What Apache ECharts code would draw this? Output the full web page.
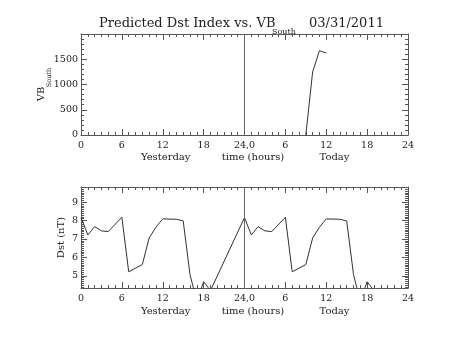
<!DOCTYPE html>
<html><head><meta charset="utf-8">
<script src="https://cdn.jsdelivr.net/npm/echarts@6/dist/echarts.min.js"></script>
<style>html,body{margin:0;padding:0;background:#fff}#c{width:453px;height:340px}</style>
</head><body><div id="c"></div>
<script>
// ---- data ----
const vbHours = [33, 34, 35, 36];
const vbValues = [0, 1248, 1669, 1624];
const dstHours = [0,1,2,3,4,6,7,9,10,11,12,14,15,16,17,18,19,
                  24,25,26,27,28,30,31,33,34,35,36,38,39,40,41,42,43];
const dstValues = [8.16,7.22,7.67,7.44,7.40,8.18,5.22,5.61,7.05,7.64,8.09,8.07,7.98,5.07,3.61,4.68,4.20,
                   8.16,7.22,7.67,7.44,7.40,8.18,5.22,5.61,7.05,7.64,8.09,8.07,7.98,5.07,3.61,4.68,4.20];
const xTickLabels = ['0','6','12','18','24,0','6','12','18','24'];
const vbTicks = [0, 500, 1000, 1500];
const vbRange = [0, 2000];
const dstTicks = [5, 6, 7, 8, 9];
const dstRange = [4.34, 9.82];
const dayMark = 24;

// minor ticks for Dst axis (every 0.1)
const dstMinor = [];
for (let i = Math.ceil(dstRange[0]*10); i <= Math.floor(dstRange[1]*10); i++) {
  if (i % 10 !== 0) dstMinor.push(i/10);
}

const FONT = '"DejaVu Serif", serif';
const LINE = '#555';
const TXT = '#222';

function xAxes(gi) {
  const base = {
    type: 'value', gridIndex: gi, min: 0, max: 48, interval: 6,
    axisLine: {show: true, onZero: false, lineStyle: {color: LINE, width: 1}},
    axisTick: {show: true, inside: true, length: 6, lineStyle: {color: LINE}},
    minorTick: {show: true, splitNumber: 6, length: 3, lineStyle: {color: LINE}},
    splitLine: {show: false}, minorSplitLine: {show: false}
  };
  return [
    Object.assign({}, base, {position: 'bottom',
      axisLabel: {show: true, margin: 6, fontFamily: FONT, fontSize: 9.5, color: TXT,
        formatter: v => xTickLabels[Math.round(v/6)]}}),
    Object.assign({}, base, {position: 'top', axisLabel: {show: false}})
  ];
}

const option = {
  animation: false,
  backgroundColor: '#fff',
  grid: [
    {left: 81, top: 34, width: 327, height: 101},
    {left: 81, top: 187, width: 327, height: 101}
  ],
  xAxis: [...xAxes(0), ...xAxes(1)],
  yAxis: [
    // top grid
    {type: 'value', gridIndex: 0, position: 'left', min: vbRange[0], max: vbRange[1], interval: 500,
     axisLine: {show: true, onZero: false, lineStyle: {color: LINE}},
     axisTick: {show: true, inside: true, length: 6, lineStyle: {color: LINE}},
     minorTick: {show: true, splitNumber: 5, length: 3, lineStyle: {color: LINE}},
     splitLine: {show: false},
     axisLabel: {show: true, margin: 3, fontFamily: FONT, fontSize: 9.5, color: TXT,
       formatter: v => vbTicks.indexOf(v) >= 0 ? String(v) : ''}},
    {type: 'value', gridIndex: 0, position: 'right', min: vbRange[0], max: vbRange[1], interval: 500,
     axisLine: {show: true, onZero: false, lineStyle: {color: LINE}},
     axisTick: {show: true, inside: true, length: 6, lineStyle: {color: LINE}},
     minorTick: {show: true, splitNumber: 5, length: 3, lineStyle: {color: LINE}},
     splitLine: {show: false}, axisLabel: {show: false}},
    // bottom grid - major
    {type: 'value', gridIndex: 1, position: 'left', min: dstRange[0], max: dstRange[1],
     axisLine: {show: true, onZero: false, lineStyle: {color: LINE}},
     axisTick: {show: true, inside: true, length: 6, customValues: dstTicks, lineStyle: {color: LINE}},
     splitLine: {show: false},
     axisLabel: {show: true, margin: 3, fontFamily: FONT, fontSize: 9.5, color: TXT, customValues: dstTicks}},
    {type: 'value', gridIndex: 1, position: 'left', min: dstRange[0], max: dstRange[1],
     axisLine: {show: false, onZero: false},
     axisTick: {show: true, inside: true, length: 3, customValues: dstMinor, lineStyle: {color: LINE}},
     splitLine: {show: false}, axisLabel: {show: false}},
    {type: 'value', gridIndex: 1, position: 'right', min: dstRange[0], max: dstRange[1],
     axisLine: {show: true, onZero: false, lineStyle: {color: LINE}},
     axisTick: {show: true, inside: true, length: 6, customValues: dstTicks, lineStyle: {color: LINE}},
     splitLine: {show: false}, axisLabel: {show: false}},
    {type: 'value', gridIndex: 1, position: 'right', min: dstRange[0], max: dstRange[1],
     axisLine: {show: false, onZero: false},
     axisTick: {show: true, inside: true, length: 3, customValues: dstMinor, lineStyle: {color: LINE}},
     splitLine: {show: false}, axisLabel: {show: false}}
  ],
  series: [
    {type: 'line', xAxisIndex: 0, yAxisIndex: 0, symbol: 'none', clip: true,
     lineStyle: {color: '#333', width: 1},
     data: vbHours.map((h, i) => [h, vbValues[i]]),
     markLine: {silent: true, symbol: 'none', label: {show: false},
       lineStyle: {color: '#666', width: 1, type: 'solid'}, data: [{xAxis: dayMark}]}},
    {type: 'line', xAxisIndex: 2, yAxisIndex: 2, symbol: 'none', clip: true,
     lineStyle: {color: '#333', width: 1},
     data: dstHours.map((h, i) => [h, dstValues[i]]),
     markLine: {silent: true, symbol: 'none', label: {show: false},
       lineStyle: {color: '#666', width: 1, type: 'solid'}, data: [{xAxis: dayMark}]}}
  ],
  graphic: [
    {type: 'text', x: 99, y: 24, style: {text: 'Predicted Dst Index vs. VB', font: '13px ' + FONT, fill: TXT, align: 'left', verticalAlign: 'middle'}},
    {type: 'text', x: 272, y: 32, style: {text: 'South', font: '8px ' + FONT, fill: TXT, align: 'left', verticalAlign: 'middle'}},
    {type: 'text', x: 309, y: 24, style: {text: '03/31/2011', font: '13px ' + FONT, fill: TXT, align: 'left', verticalAlign: 'middle'}},
    {type: 'text', x: 41.5, y: 94, rotation: Math.PI/2, style: {text: 'VB', font: '10px ' + FONT, fill: TXT, align: 'center', verticalAlign: 'middle'}},
    {type: 'text', x: 49, y: 77.5, rotation: Math.PI/2, style: {text: 'South', font: '6.5px ' + FONT, fill: TXT, align: 'center', verticalAlign: 'middle'}},
    {type: 'text', x: 61.5, y: 237.5, rotation: Math.PI/2, style: {text: 'Dst (nT)', font: '10px ' + FONT, fill: TXT, align: 'center', verticalAlign: 'middle'}},
    {type: 'text', x: 165.7, y: 157.3, style: {text: 'Yesterday', font: '10px ' + FONT, fill: TXT, align: 'center', verticalAlign: 'middle'}},
    {type: 'text', x: 253, y: 157.3, style: {text: 'time (hours)', font: '10px ' + FONT, fill: TXT, align: 'center', verticalAlign: 'middle'}},
    {type: 'text', x: 334.5, y: 157.3, style: {text: 'Today', font: '10px ' + FONT, fill: TXT, align: 'center', verticalAlign: 'middle'}},
    {type: 'text', x: 165.7, y: 311, style: {text: 'Yesterday', font: '10px ' + FONT, fill: TXT, align: 'center', verticalAlign: 'middle'}},
    {type: 'text', x: 253, y: 311, style: {text: 'time (hours)', font: '10px ' + FONT, fill: TXT, align: 'center', verticalAlign: 'middle'}},
    {type: 'text', x: 334.5, y: 311, style: {text: 'Today', font: '10px ' + FONT, fill: TXT, align: 'center', verticalAlign: 'middle'}}
  ]
};
const chart = echarts.init(document.getElementById('c'), null, {renderer: 'canvas'});
chart.setOption(option);
</script>
</body></html>
